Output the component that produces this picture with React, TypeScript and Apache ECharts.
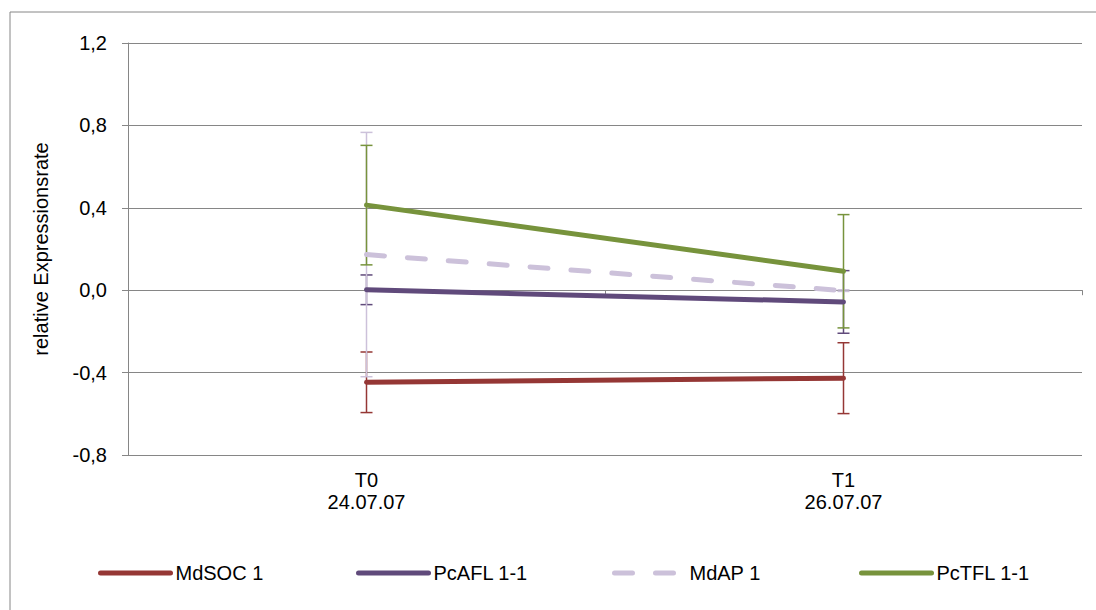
import React, { useEffect, useRef } from "react";
import * as echarts from "echarts";

const categories = ["T0\n24.07.07", "T1\n26.07.07"];
const yTickFormat = (v: number) => v.toFixed(1).replace(".", ",");

const seriesNames = ["MdSOC 1", "PcAFL 1-1", "MdAP 1", "PcTFL 1-1"];
const seriesColors = ["#953735", "#604A7B", "#CCC1DA", "#77933C"];

const mdsocValues = [-0.447, -0.427];
const mdsocErr = [0.147, 0.172];
const pcaflValues = [0.002, -0.057];
const pcaflErr = [0.072, 0.152];
const mdapValues = [0.173, -0.002];
const mdapErr = [0.593, 0.004];
const pctflValues = [0.413, 0.092];
const pctflErr = [0.29, 0.275];

const legendLefts = [98, 356, 612, 859];

const FONT = "'Liberation Sans', Arial, sans-serif";
const GRID_COLOR = "#868686";

function errorData(values: number[], errs: number[]) {
  return values.map((v, i) => [i, v - errs[i], v + errs[i]]);
}

function makeErrorSeries(name: string, color: string, values: number[], errs: number[]) {
  return {
    type: "custom",
    name: name + " err",
    xAxisIndex: 0,
    yAxisIndex: 0,
    z: 1,
    silent: true,
    data: errorData(values, errs),
    renderItem: (params: any, api: any) => {
      const idx = api.value(0);
      const lo = api.coord([idx, api.value(1)]);
      const hi = api.coord([idx, api.value(2)]);
      const half = 6;
      const style = { stroke: color, lineWidth: 1.5, fill: "none" };
      return {
        type: "group",
        children: [
          { type: "line", shape: { x1: hi[0], y1: hi[1], x2: lo[0], y2: lo[1] }, style },
          { type: "line", shape: { x1: hi[0] - half, y1: hi[1], x2: hi[0] + half, y2: hi[1] }, style },
          { type: "line", shape: { x1: lo[0] - half, y1: lo[1], x2: lo[0] + half, y2: lo[1] }, style },
        ],
      };
    },
  };
}

function makeLineSeries(name: string, color: string, values: number[], dashed: boolean) {
  return {
    type: "line",
    name,
    xAxisIndex: 0,
    yAxisIndex: 0,
    z: 3,
    symbol: "none",
    showSymbol: false,
    data: values,
    itemStyle: { color },
    lineStyle: {
      color,
      width: 5,
      cap: "round",
      type: dashed ? [18, 23] : "solid",
    },
  };
}

export default function App() {
  const ref = useRef<HTMLDivElement>(null);

  useEffect(() => {
    if (!ref.current) return;
    const chart = echarts.init(ref.current, undefined, { renderer: "svg" });
    const valueSets = [mdsocValues, pcaflValues, mdapValues, pctflValues];
    const errSets = [mdsocErr, pcaflErr, mdapErr, pctflErr];

    const option: any = {
      animation: false,
      backgroundColor: "#ffffff",
      textStyle: { fontFamily: FONT },
      graphic: [
        {
          type: "rect",
          shape: { x: 10, y: 12, width: 1200, height: 700 },
          style: { fill: "none", stroke: GRID_COLOR, lineWidth: 1 },
          silent: true,
          z: -1,
        },
      ],
      grid: { left: 128, right: 14, top: 43, bottom: 155 },
      legend: seriesNames.map((n, i) => ({
        data: [n],
        left: legendLefts[i],
        top: 563,
        padding: 0,
        orient: "horizontal",
        itemWidth: 70,
        itemHeight: 14,
        selectedMode: false,
        itemStyle: { opacity: 0, color: "rgba(0,0,0,0)", borderWidth: 0 },
        lineStyle: { width: 5, cap: "round" },
        textStyle: { fontFamily: FONT, fontSize: 20, color: "#000" },
      })),
      xAxis: [
        {
          type: "category",
          data: categories,
          boundaryGap: true,
          axisLine: { show: true, onZero: true, lineStyle: { color: GRID_COLOR, width: 1 } },
          axisTick: { show: true, length: 5, inside: false, lineStyle: { color: GRID_COLOR } },
          axisLabel: { show: false },
          splitLine: { show: false },
        },
        {
          type: "category",
          data: categories,
          position: "bottom",
          boundaryGap: true,
          axisLine: { show: false, onZero: false },
          axisTick: { show: false },
          axisLabel: {
            show: true,
            margin: 14,
            color: "#000",
            fontFamily: FONT,
            fontSize: 20,
            lineHeight: 22,
          },
          splitLine: { show: false },
        },
      ],
      yAxis: {
        type: "value",
        min: -0.8,
        max: 1.2,
        interval: 0.4,
        name: "relative Expressionsrate",
        nameLocation: "middle",
        nameRotate: 90,
        nameGap: 77,
        nameTextStyle: { fontFamily: FONT, fontSize: 20, color: "#000" },
        axisLine: { show: true, onZero: false, lineStyle: { color: GRID_COLOR, width: 1 } },
        axisTick: { show: true, length: 6, lineStyle: { color: GRID_COLOR } },
        axisLabel: {
          color: "#000",
          fontFamily: FONT,
          fontSize: 20,
          margin: 21,
          formatter: yTickFormat,
        },
        splitLine: { show: true, lineStyle: { color: GRID_COLOR, width: 1 } },
      },
      series: [
        ...seriesNames.map((n, i) => makeErrorSeries(n, seriesColors[i], valueSets[i], errSets[i])),
        ...seriesNames.map((n, i) => makeLineSeries(n, seriesColors[i], valueSets[i], i === 2)),
      ],
    };
    chart.setOption(option);
    return () => chart.dispose();
  }, []);

  return (
    <div
      ref={ref}
      style={{ position: "absolute", left: 0, top: 0, width: 1096, height: 610 }}
    />
  );
}
